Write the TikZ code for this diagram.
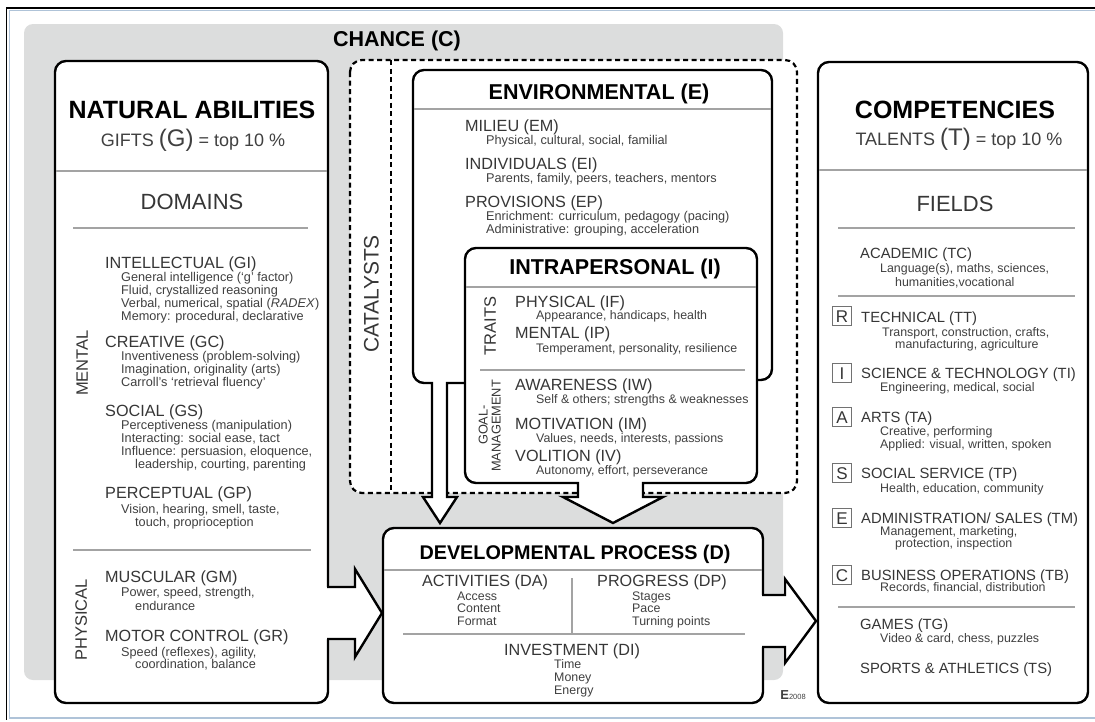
\documentclass[tikz,border=0pt]{standalone}
\usepackage{fontspec}
\setmainfont{Liberation Sans}
\definecolor{chancegray}{HTML}{DCDDDD}
\definecolor{rulegray}{HTML}{A3A3A3}
\definecolor{headgray}{HTML}{363636}
\definecolor{subgray}{HTML}{404040}
\definecolor{frameblue}{HTML}{AFC3D8}
\tikzstyle{box} = [line width=2.4pt, rounded corners=11pt, fill=white]
\tikzstyle{blockarrow} = [line width=2.4pt]
\tikzstyle{catdash} = [line width=2.2pt, dash pattern=on 5pt off 3.5pt]
\tikzstyle{rule} = [rulegray, line width=1.3pt]
\tikzstyle{bigtitle} = [font=\bfseries\fontsize{25}{25}\selectfont, text height=17.9pt]
\tikzstyle{title} = [font=\bfseries\fontsize{21.5}{22}\selectfont, text height=15.4pt]
\tikzstyle{group} = [text=headgray, font=\fontsize{22}{22}\selectfont, text height=15.7pt]
\tikzstyle{head} = [anchor=west, text=headgray, font=\fontsize{16.2}{16}\selectfont, text height=11.6pt]
\tikzstyle{fieldhead} = [head, font=\fontsize{14.8}{15}\selectfont, text height=10.6pt]
\tikzstyle{sub} = [anchor=west, text=subgray, font=\fontsize{12.7}{13}\selectfont, text height=9.1pt]
\tikzstyle{smallsub} = [sub, font=\fontsize{12.4}{13}\selectfont, text height=8.9pt]
\tikzstyle{side} = [rotate=90, text=headgray, font=\fontsize{16.5}{17}\selectfont, text height=11.8pt]
\tikzstyle{letter} = [draw=rulegray!70!black, line width=1pt, minimum size=19pt, text=headgray, font=\fontsize{17}{17}\selectfont, text height=12.2pt]

\begin{document}
\begin{tikzpicture}[x=1pt, y=-1pt, every node/.style={inner sep=0pt, text depth=0pt}]
\useasboundingbox (0,0) rectangle (1095,721);

% window frame
\draw[frameblue, line width=1.4pt] (1095,10.5) -- (9.5,10.5) -- (9.5,718) -- (1095,718);
\draw[line width=1.3pt] (1095,8) -- (6.5,8) -- (6.5,720);

% chance
\fill[chancegray, rounded corners=9pt] (24,24) rectangle (783,680);
\node[title] (chance) at (397,39) {CHANCE (C)};

% catalysts
\draw[catdash, fill=white, rounded corners=12pt] (350,60) rectangle (797,493);
\draw[catdash] (391,60) -- (391,493);
\node[side, font=\fontsize{21}{21}\selectfont, text height=15pt] (catalysts) at (371,294) {CATALYSTS};

% natural abilities
\draw[box] (55,61) rectangle (328,703);
\node[bigtitle] (gifts) at (192,110) {NATURAL ABILITIES};
\node[text=subgray, font=\fontsize{18}{18}\selectfont, text height=12.9pt] (gtop) at (193,140) {GIFTS {\fontsize{24}{24}\selectfont(G)} = top 10 \%};
\draw[rule] (56.2,171) -- (326.8,171);
\node[group] (domains) at (192,202) {DOMAINS};
\draw[rule] (73,228) -- (308,228);
\draw[rule] (73,550) -- (311,550);
\node[side] (mental) at (82,363) {MENTAL};
\node[side] (physical) at (81,620) {PHYSICAL};
\foreach \y/\t [count=\i] in {263/INTELLECTUAL (GI), 342/CREATIVE (GC), 411/SOCIAL (GS), 493/PERCEPTUAL (GP), 577/MUSCULAR (GM), 636/MOTOR CONTROL (GR)}
  \node[head] (g\i) at (105,\y) {\t};
\foreach \x/\y/\t [count=\i] in {121/277/{General intelligence (`g' factor)}, 121/290/{Fluid, crystallized reasoning}, 121/303/{Verbal, numerical, spatial (\textit{RADEX})}, 121/316/{Memory: procedural, declarative},
  121/356/{Inventiveness (problem-solving)}, 121/369/{Imagination, originality (arts)}, 121/382/{Carroll's `retrieval fluency'},
  121/425/{Perceptiveness (manipulation)}, 121/438/{Interacting: social ease, tact}, 121/451/{Influence: persuasion, eloquence,}, 135/464/{leadership, courting, parenting},
  121/509/{Vision, hearing, smell, taste,}, 135/522/{touch, proprioception},
  121/592/{Power, speed, strength,}, 135/606/{endurance},
  121/652/{Speed (reflexes), agility,}, 135/664/{coordination, balance}}
  \node[sub] (gs\i) at (\x,\y) {\t};

% environmental
\filldraw[blockarrow, fill=white] (465,383) -- (447,383) -- (447,497) -- (457,497) -- (440,523) -- (423,497) -- (432,497) -- (432,383) [rounded corners=11pt] -- (413,383) -- (413,70) -- (772,70) -- (772,380) -- (757,380);
\draw[rule] (414.2,109) -- (770.8,109);
\node[title] (env) at (599,92) {ENVIRONMENTAL (E)};
\foreach \y/\t [count=\i] in {126/MILIEU (EM), 164/INDIVIDUALS (EI), 202/PROVISIONS (EP)}
  \node[head] (e\i) at (465,\y) {\t};
\foreach \y/\t [count=\i] in {140/{Physical, cultural, social, familial}, 178/{Parents, family, peers, teachers, mentors}, 216/{Enrichment: curriculum, pedagogy (pacing)}, 229/{Administrative: grouping, acceleration}}
  \node[sub] (es\i) at (486,\y) {\t};

% intrapersonal
\filldraw[blockarrow, fill=white] (578,483) -- (578,497) -- (563,497) -- (613,523) -- (663,497) -- (643,497) -- (643,483) [rounded corners=11pt] -- (757,483) -- (757,248) -- (465,248) -- (465,483) [sharp corners] -- cycle;
\draw[rule] (466.2,287) -- (755.8,287);
\node[title] (intra) at (615,267) {INTRAPERSONAL (I)};
\node[side] (traits) at (490,326) {TRAITS};
\node[side, font=\fontsize{12.8}{13}\selectfont, text height=9.2pt] (goal) at (483,425) {GOAL-};
\node[side, font=\fontsize{12.8}{13}\selectfont, text height=9.2pt] (manage) at (496,426) {MANAGEMENT};
\draw[rule] (480,370) -- (745,370);
\foreach \y/\t [count=\i] in {302/PHYSICAL (IF), 333/MENTAL (IP), 385/AWARENESS (IW), 424/MOTIVATION (IM), 456/VOLITION (IV)}
  \node[head] (i\i) at (515,\y) {\t};
\foreach \y/\t [count=\i] in {315/{Appearance, handicaps, health}, 348/{Temperament, personality, resilience}, 399/{Self \& others; strengths \& weaknesses}, 438/{Values, needs, interests, passions}, 470/{Autonomy, effort, perseverance}}
  \node[smallsub] (is\i) at (536,\y) {\t};

% developmental process
\draw[box] (383,528) rectangle (763,703);
\fill[white] (320,587) -- (355,587) -- (355,569) -- (382,613) -- (355,657) -- (355,639) -- (320,639) -- cycle;
\draw[blockarrow] (327,587) -- (355,587) -- (355,569) -- (382,613) -- (355,657) -- (355,639) -- (327,639);
\fill[white] (757,595) -- (785,595) -- (785,579) -- (816,621) -- (785,663) -- (785,647) -- (757,647) -- cycle;
\draw[blockarrow] (762,595) -- (785,595) -- (785,579) -- (816,621) -- (785,663) -- (785,647) -- (762,647);
\draw[rule] (384.2,570) -- (761.8,570);
\node[title, font=\bfseries\fontsize{19.8}{20}\selectfont, text height=14.2pt] (dev) at (575,552) {DEVELOPMENTAL PROCESS (D)};
\node[head, anchor=center] (da) at (485,581) {ACTIVITIES (DA)};
\node[head, anchor=center] (dp) at (662,581) {PROGRESS (DP)};
\node[head, anchor=center] (di) at (572,649.5) {INVESTMENT (DI)};
\draw[rule] (572,578) -- (572,633);
\draw[rule] (403,634) -- (745,634);
\foreach \x/\y/\t [count=\i] in {457/596/Access, 457/608.5/Content, 457/621/Format, 632/596/Stages, 632/608.5/Pace, 632/621/Turning points, 554/664.5/Time, 554/677.5/Money, 554/690.5/Energy}
  \node[smallsub] (ds\i) at (\x,\y) {\t};
\node[text=subgray, font=\fontsize{7.5}{8}\selectfont, text height=5.4pt] (mark) at (793,697) {{\fontsize{13}{13}\selectfont\textbf{E}}2008};

% competencies
\draw[box] (818,62) rectangle (1088,703);
\node[bigtitle] (talents) at (955,110) {COMPETENCIES};
\node[text=subgray, font=\fontsize{18}{18}\selectfont, text height=12.9pt] (ttop) at (959,139) {TALENTS {\fontsize{24}{24}\selectfont(T)} = top 10 \%};
\draw[rule] (819.2,170) -- (1086.8,170);
\node[group] (fields) at (955,204) {FIELDS};
\draw[rule] (838,228) -- (1075,228);
\draw[rule] (838,296) -- (1075,296);
\draw[rule] (838,607) -- (1075,607);
\foreach \y/\l in {316/R, 373/I, 417/A, 473/S, 518/E, 575/C}
  \node[letter] (box\l) at (842,\y) {\l};
\foreach \x/\y/\t [count=\i] in {860/253/ACADEMIC (TC), 861/317/TECHNICAL (TT), 861/373/{SCIENCE \& TECHNOLOGY (TI)}, 861/417/ARTS (TA), 861/473/SOCIAL SERVICE (TP), 861/518/{ADMINISTRATION/ SALES (TM)}, 861/575/BUSINESS OPERATIONS (TB), 860/624/GAMES (TG), 860/668/{SPORTS \& ATHLETICS (TS)}}
  \node[fieldhead] (t\i) at (\x,\y) {\t};
\foreach \x/\y/\t [count=\i] in {880/268/{Language(s), maths, sciences,}, 895/282/{humanities,vocational}, 882/332/{Transport, construction, crafts,}, 895/344/{manufacturing, agriculture}, 880/387/{Engineering, medical, social}, 880/431/{Creative, performing}, 880/444/{Applied: visual, written, spoken}, 880/488/{Health, education, community}, 880/531/{Management, marketing,}, 895/543/{protection, inspection}, 880/587/{Records, financial, distribution}, 880/638/{Video \& card, chess, puzzles}}
  \node[smallsub] (ts\i) at (\x,\y) {\t};
\end{tikzpicture}
\end{document}
